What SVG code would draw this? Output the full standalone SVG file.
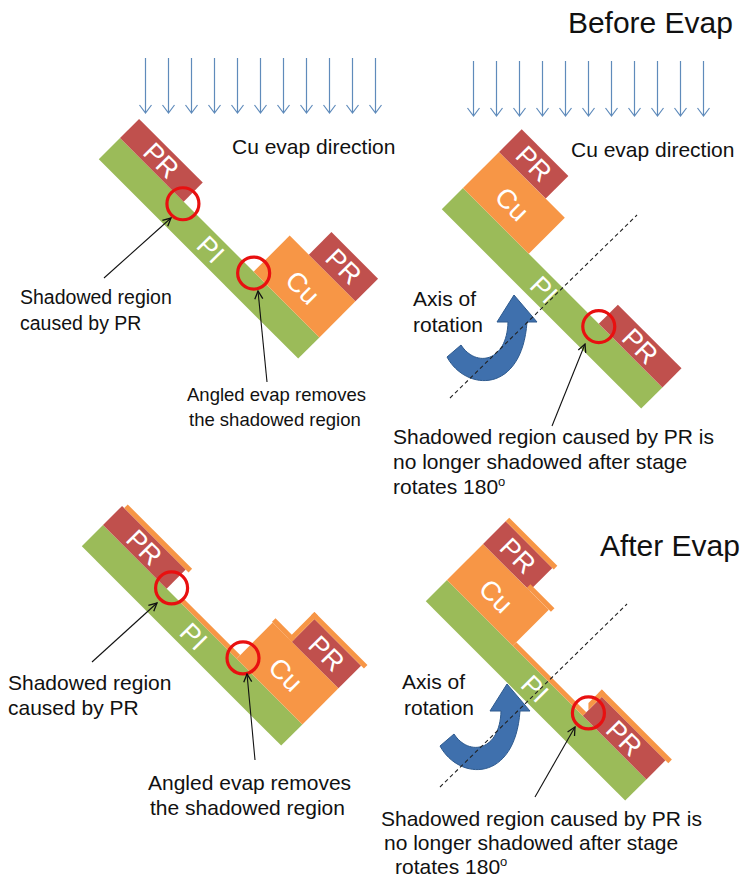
<svg xmlns="http://www.w3.org/2000/svg" width="742" height="886" viewBox="0 0 742 886">
  <style>
    .pi { fill: #9BBB59; }
    .pr { fill: #C0504D; }
    .cu { fill: #F79646; }
    .lbl { fill: #fff; font-family: "Liberation Sans", Arial, sans-serif; font-size: 27px; text-anchor: middle; dominant-baseline: central; }
    .ring { fill: none; stroke: #E81010; stroke-width: 3.2; }
    .txt { fill: #111; font-family: "Liberation Sans", Arial, sans-serif; font-size: 21px; }
    .sm { font-size: 19.5px; }
    .xs { font-size: 18.5px; }
    .big { fill: #111; font-family: "Liberation Sans", Arial, sans-serif; font-size: 30px; text-anchor: end; }
    .evap { fill: none; stroke: #5F8BBB; stroke-width: 1.2; }
    .ptr { fill: none; stroke: #111; stroke-width: 1.1; marker-end: url(#open); }
    .axis { fill: none; stroke: #222; stroke-width: 1.1; stroke-dasharray: 4 3; }
    .turn { fill: #3F70AD; stroke: #2E5A8E; stroke-width: 1; }
  </style>
  <defs>
    <marker id="open" viewBox="0 0 10 10" refX="9" refY="5" markerWidth="10" markerHeight="10" markerUnits="userSpaceOnUse" orient="auto">
      <path d="M1,1 L9,5 L1,9" fill="none" stroke="#111" stroke-width="1.3"/>
    </marker>
    <!-- curved rotation arrow -->
    <path id="turnArrow" d="M447,357 C466,392 522,394 527,322 L537,322 L514,295 L497,322 L508,322 C507,362 476,368 461,345 Z"/>
    <!-- one evaporation arrow -->
    <path id="drop" d="M0,0 V55 M-6,47 L0,55 L6,47"/>
  </defs>

  <!-- titles -->
  <text class="big" x="733" y="33">Before Evap</text>
  <text class="big" x="740" y="556">After Evap</text>

  <!-- evaporation flux arrows -->
  <g id="flux-left" class="evap">
    <use href="#drop" x="145.5" y="58"/>
    <use href="#drop" x="168.5" y="58"/>
    <use href="#drop" x="191.5" y="58"/>
    <use href="#drop" x="214.5" y="58"/>
    <use href="#drop" x="237.5" y="58"/>
    <use href="#drop" x="260.5" y="58"/>
    <use href="#drop" x="283.5" y="58"/>
    <use href="#drop" x="306.5" y="58"/>
    <use href="#drop" x="329.5" y="58"/>
    <use href="#drop" x="352.5" y="58"/>
    <use href="#drop" x="375.5" y="58"/>
  </g>
  <g id="flux-right" class="evap">
    <use href="#drop" x="473.5" y="61"/>
    <use href="#drop" x="496.5" y="61"/>
    <use href="#drop" x="519.5" y="61"/>
    <use href="#drop" x="542.5" y="61"/>
    <use href="#drop" x="565.5" y="61"/>
    <use href="#drop" x="588.5" y="61"/>
    <use href="#drop" x="611.5" y="61"/>
    <use href="#drop" x="634.5" y="61"/>
    <use href="#drop" x="657.5" y="61"/>
    <use href="#drop" x="680.5" y="61"/>
    <use href="#drop" x="703.5" y="61"/>
  </g>
  <text class="txt" x="232" y="154">Cu evap direction</text>
  <text class="txt" x="571" y="157">Cu evap direction</text>

  <!-- before evaporation, stage at first position -->
  <g id="stack-before-a" transform="translate(120,138) rotate(45)">
    <rect class="pi" x="0" y="0" width="282" height="30"/>
    <rect class="pr" x="0" y="-27" width="90" height="27"/>
    <rect class="cu" x="189" y="-51" width="93" height="51"/>
    <rect class="pr" x="216" y="-83" width="66" height="32"/>
    <text class="lbl" x="45" y="-13">PR</text>
    <text class="lbl" x="143" y="15">PI</text>
    <text class="lbl" x="235" y="-23">Cu</text>
    <text class="lbl" x="249" y="-67">PR</text>
    <circle class="ring" cx="91" cy="2" r="16"/>
    <circle class="ring" cx="190" cy="1" r="16"/>
  </g>

  <!-- before evaporation, stage rotated 180 degrees -->
  <g id="stack-before-b" transform="translate(463,188) rotate(45)">
    <rect class="pi" x="0" y="0" width="282" height="30"/>
    <rect class="cu" x="0" y="-51" width="93" height="51"/>
    <rect class="pr" x="0" y="-83" width="66" height="32"/>
    <rect class="pr" x="192" y="-27" width="90" height="27"/>
    <text class="lbl" x="33" y="-67">PR</text>
    <text class="lbl" x="46" y="-23">Cu</text>
    <text class="lbl" x="129" y="15">PI</text>
    <text class="lbl" x="237" y="-13">PR</text>
    <circle class="ring" cx="194" cy="2" r="16"/>
  </g>

  <!-- after evaporation, first position -->
  <g id="stack-after-a" transform="translate(103,525) rotate(45)">
    <rect class="pi" x="0" y="0" width="282" height="30"/>
    <rect class="pr" x="0" y="-27" width="90" height="27"/>
    <rect class="cu" x="189" y="-51" width="93" height="51"/>
    <rect class="pr" x="216" y="-83" width="66" height="32"/>
    <!-- deposited copper film -->
    <rect class="cu" x="3" y="-32" width="91" height="5"/>
    <rect class="cu" x="110" y="-5" width="79" height="5"/>
    <rect class="cu" x="188" y="-56" width="28" height="5"/>
    <rect class="cu" x="211" y="-88" width="5" height="37"/>
    <rect class="cu" x="211" y="-88" width="75" height="5"/>
    <text class="lbl" x="45" y="-13">PR</text>
    <text class="lbl" x="143" y="15">PI</text>
    <text class="lbl" x="235" y="-23">Cu</text>
    <text class="lbl" x="249" y="-67">PR</text>
    <circle class="ring" cx="93" cy="-4" r="16"/>
    <circle class="ring" cx="193" cy="-5" r="16"/>
  </g>

  <!-- after evaporation, rotated position -->
  <g id="stack-after-b" transform="translate(447,580) rotate(45)">
    <rect class="pi" x="0" y="0" width="282" height="30"/>
    <rect class="cu" x="0" y="-51" width="93" height="51"/>
    <rect class="pr" x="0" y="-83" width="66" height="32"/>
    <rect class="pr" x="192" y="-27" width="90" height="27"/>
    <!-- deposited copper film -->
    <rect class="cu" x="0" y="-88" width="68" height="5"/>
    <rect class="cu" x="62" y="-56" width="34" height="5"/>
    <rect class="cu" x="93" y="-5" width="99" height="5"/>
    <polygon class="cu" points="187,-32 192,-32 192,-8 187,-13"/>
    <rect class="cu" x="187" y="-32" width="99" height="5"/>
    <text class="lbl" x="33" y="-67">PR</text>
    <text class="lbl" x="46" y="-23">Cu</text>
    <text class="lbl" x="139" y="15">PI</text>
    <text class="lbl" x="237" y="-13">PR</text>
    <circle class="ring" cx="194" cy="-6" r="16"/>
  </g>

  <!-- rotation arrows and axes -->
  <g id="rotation-top">
    <use href="#turnArrow" class="turn"/>
    <line class="axis" x1="450" y1="398" x2="637" y2="215"/>
  </g>
  <g id="rotation-bottom">
    <use href="#turnArrow" class="turn" transform="translate(-7,389)"/>
    <line class="axis" x1="440" y1="787" x2="627" y2="604"/>
  </g>

  <!-- pointer lines -->
  <g id="connectors">
    <line class="ptr" x1="104" y1="278" x2="171" y2="218"/>
    <line class="ptr" x1="267" y1="382" x2="258" y2="291"/>
    <line class="ptr" x1="552" y1="426" x2="585" y2="344"/>
    <line class="ptr" x1="92" y1="662" x2="157" y2="603"/>
    <line class="ptr" x1="255" y1="760" x2="247" y2="674"/>
    <line class="ptr" x1="535" y1="797" x2="575" y2="727"/>
  </g>

  <!-- annotations -->
  <text class="txt sm" x="20" y="304">Shadowed region</text>
  <text class="txt sm" x="20" y="330">caused by PR</text>
  <text class="txt xs" x="187" y="401">Angled evap removes</text>
  <text class="txt xs" x="189" y="426">the shadowed region</text>
  <text class="txt" x="413" y="306">Axis of</text>
  <text class="txt" x="413" y="332">rotation</text>
  <text class="txt" x="393" y="444">Shadowed region caused by PR is</text>
  <text class="txt" x="393" y="469">no longer shadowed after stage</text>
  <text class="txt" x="393" y="494">rotates 180<tspan font-size="13" dy="-8">o</tspan></text>

  <text class="txt" x="8" y="690">Shadowed region</text>
  <text class="txt" x="8" y="715">caused by PR</text>
  <text class="txt" x="148" y="790">Angled evap removes</text>
  <text class="txt" x="150" y="815">the shadowed region</text>
  <text class="txt" x="402" y="689">Axis of</text>
  <text class="txt" x="404" y="715">rotation</text>
  <text class="txt" x="381" y="826">Shadowed region caused by PR is</text>
  <text class="txt" x="384" y="850">no longer shadowed after stage</text>
  <text class="txt" x="395" y="874">rotates 180<tspan font-size="13" dy="-8">o</tspan></text>
</svg>
